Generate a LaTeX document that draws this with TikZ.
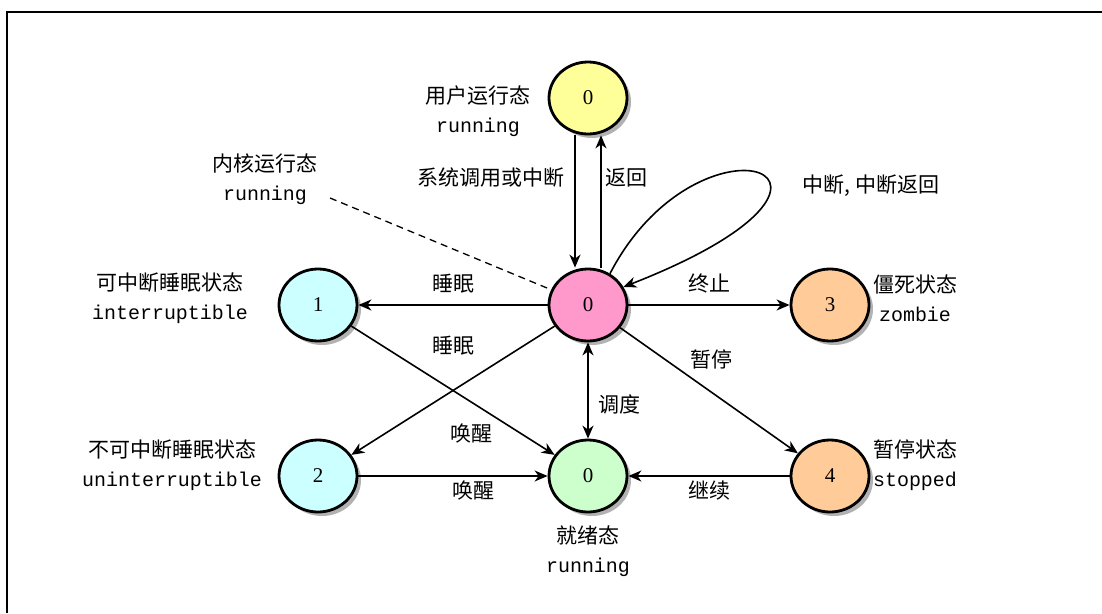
\documentclass[tikz,border=0pt]{standalone}
\usepackage{fontspec}
\setmainfont{Liberation Serif}
\setmonofont{Liberation Mono}[Scale=0.95]
\newfontfamily\cjk{Noto Sans CJK SC}
\usetikzlibrary{shapes.geometric,arrows.meta,shadows}
\definecolor{userc}{HTML}{FFFF99}
\definecolor{kernc}{HTML}{FF99CC}
\definecolor{sleepc}{HTML}{CCFFFF}
\definecolor{deadc}{HTML}{FFCC99}
\definecolor{readyc}{HTML}{CCFFCC}
\begin{document}
\begin{tikzpicture}[x=1pt, y=-1pt,
	state/.style={ellipse, minimum width=78pt, minimum height=72pt, inner sep=0pt, line width=2.8pt, draw=black, font=\fontsize{21}{24}\selectfont, drop shadow={shadow xshift=4pt, shadow yshift=-4pt, fill=black!30, opacity=1}},
	tag/.style={align=center, font=\ttfamily\fontsize{21}{29}\selectfont},
	lbl/.style={font=\cjk\fontsize{21}{24}\selectfont, inner sep=4pt},
	arrow/.style={line width=1.6pt, -{Stealth[length=13pt, width=11pt, inset=4pt]}},
	dual/.style={line width=1.6pt, {Stealth[length=13pt, width=11pt, inset=4pt]}-{Stealth[length=13pt, width=11pt, inset=4pt]}}]

	\useasboundingbox (0,0) rectangle (1102,613);
	\draw [line width=2pt] (7,613) -- (7,12) -- (1102,12);

	\node (u) [state, fill=userc] at (588,98) {0};
	\node (k) [state, fill=kernc] at (588,305) {0};
	\node (s1) [state, fill=sleepc] at (318,305) {1};
	\node (s2) [state, fill=sleepc] at (318,476) {2};
	\node (z) [state, fill=deadc] at (830,305) {3};
	\node (t) [state, fill=deadc] at (830,476) {4};
	\node (r) [state, fill=readyc] at (588,476) {0};

	\node (utag) [tag] at (478,111) {{\cjk 用户运行态}\\running};
	\node (ktag) [tag] at (265,179) {{\cjk 内核运行态}\\running};
	\node (s1tag) [tag] at (170,298) {{\cjk 可中断睡眠状态}\\interruptible};
	\node (s2tag) [tag] at (172,465) {{\cjk 不可中断睡眠状态}\\uninterruptible};
	\node (ztag) [tag] at (915,298) {{\cjk 僵死状态}\\zombie};
	\node (ttag) [tag] at (915,465) {{\cjk 暂停状态}\\stopped};
	\node (rtag) [tag] at (588,551) {{\cjk 就绪态}\\running};

	\coordinate (kdot) at (330,198);
	\draw [dashed, line width=1.3pt, dash pattern=on 7pt off 5pt] (kdot) -- (k);

	\draw [arrow] ([xshift=-13pt]u.south) -- node[lbl, left=6pt, pos=0.32] {系统调用或中断} ([xshift=-13pt]k.north);
	\draw [arrow] ([xshift=13pt]k.north) -- node[lbl, right, pos=0.68] {返回} ([xshift=13pt]u.south);
	\draw [arrow] (k.55) .. controls (700,100) and (910,175) .. node[lbl, right=40pt, yshift=-12pt, pos=0.5] {中断, 中断返回} (k.27);
	\draw [arrow] (k) -- node[lbl, above=7pt] {睡眠} (s1);
	\draw [arrow] (k) -- node[lbl, above=7pt] {终止} (z);
	\draw [arrow] (k) -- node[lbl, above=30pt, pos=0.5] {睡眠} (s2);
	\draw [arrow] (k) -- node[lbl, above right, pos=0.37] {暂停} (t);
	\draw [arrow] (s1) -- node[lbl, below left, pos=0.72] {唤醒} (r);
	\draw [dual] (k) -- node[lbl, right=6pt, pos=0.65] {调度} (r);
	\draw [arrow] (s2) -- node[lbl, below, pos=0.61] {唤醒} (r);
	\draw [arrow] (t) -- node[lbl, below] {继续} (r);
\end{tikzpicture}
\end{document}
